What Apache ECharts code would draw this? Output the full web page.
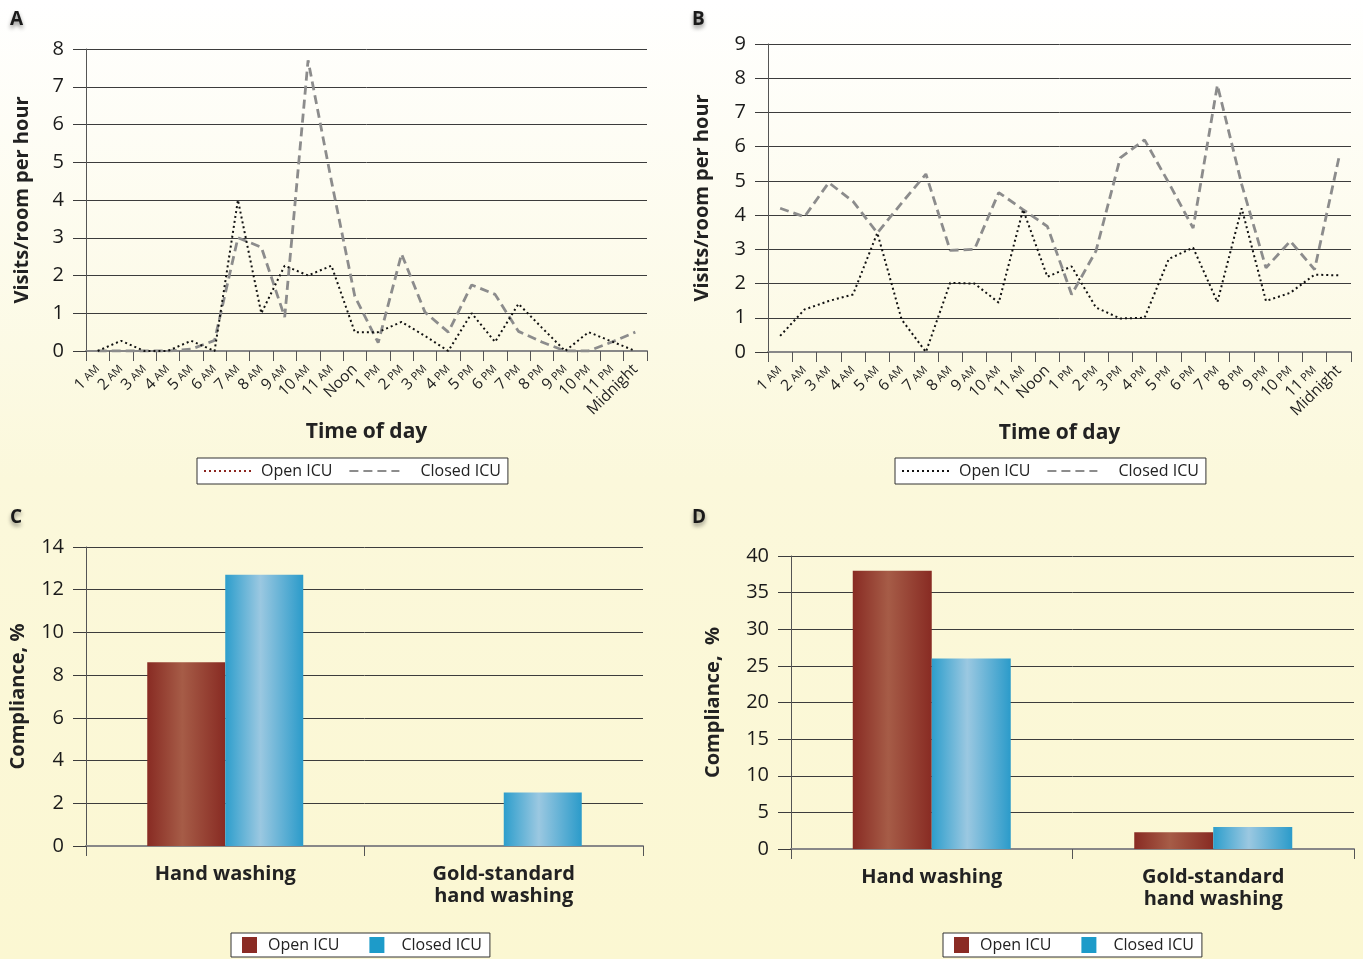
<!DOCTYPE html>
<html>
<head>
<meta charset="utf-8">
<script src="https://cdn.jsdelivr.net/npm/echarts@6/dist/echarts.min.js"></script>
<style>
html,body{margin:0;padding:0;}
#main{width:1363px;height:959px;}
</style>
</head>
<body>
<div id="main"></div>
<script>
// ---- data ----
const hours = ['1 AM','2 AM','3 AM','4 AM','5 AM','6 AM','7 AM','8 AM','9 AM','10 AM','11 AM','Noon',
  '1 PM','2 PM','3 PM','4 PM','5 PM','6 PM','7 PM','8 PM','9 PM','10 PM','11 PM','Midnight'];
const openA   = [0,0.27,0,0,0.27,0,4.0,1.0,2.26,2.0,2.26,0.5,0.5,0.77,0.4,0,1.0,0.24,1.25,0.62,0,0.5,0.25,0];
const closedA = [0,0,0,0,0.05,0.28,3.0,2.75,0.9,7.7,4.5,1.45,0.22,2.57,1.03,0.5,1.75,1.5,0.52,0.24,0,0,0.24,0.5];
const openB   = [0.47,1.24,1.49,1.68,3.48,0.95,0,2.02,2.0,1.44,4.16,2.2,2.5,1.3,0.98,1.0,2.72,3.05,1.46,4.2,1.49,1.73,2.26,2.24];
const closedB = [4.2,3.95,4.95,4.4,3.48,4.35,5.2,2.97,3.0,4.66,4.16,3.67,1.68,2.95,5.67,6.2,4.94,3.62,7.8,4.9,2.46,3.24,2.41,5.67];
const barCats = ['Hand washing','Gold-standard\nhand washing'];
const openC   = [8.6, 0];
const closedC = [12.7, 2.5];
const openD   = [38, 2.3];
const closedD = [26, 3.0];

// ---- styles ----
const FONT = '"Open Sans", "Noto Sans", sans-serif';
const gridLineColor = '#3c3c3c';
const redGrad = {type:'linear',x:0,y:0,x2:1,y2:0,colorStops:[
  {offset:0,color:'#882b23'},{offset:0.45,color:'#a65c47'},{offset:1,color:'#882b23'}]};
const blueGrad = {type:'linear',x:0,y:0,x2:1,y2:0,colorStops:[
  {offset:0,color:'#2d9ecc'},{offset:0.45,color:'#9bc8e1'},{offset:1,color:'#2b9bca'}]};

function hourLabel(v){
  const m = /^(\d+) (AM|PM)$/.exec(v);
  if (m) return '{n|' + m[1] + '} {s|' + m[2] + '}';
  return '{n|' + v + '}';
}

function valueAxis(gi, max, interval, name, gap){
  return {
    type:'value', gridIndex:gi, min:0, max:max, interval:interval,
    name:name, nameLocation:'middle', nameGap:gap, nameRotate:90,
    nameTextStyle:{fontFamily:FONT,fontSize:20,fontWeight:'bold',color:'#222'},
    axisLine:{show:true,lineStyle:{color:'#555',width:1}},
    axisTick:{show:true,length:13,lineStyle:{color:gridLineColor,width:1}},
    axisLabel:{fontFamily:FONT,fontSize:20,color:'#1a1a1a',margin:22},
    splitLine:{show:true,lineStyle:{color:gridLineColor,width:1}}
  };
}
function hourAxis(gi){
  return {
    type:'category', gridIndex:gi, data:hours, boundaryGap:true,
    name:'Time of day', nameLocation:'middle', nameGap:61,
    nameTextStyle:{fontFamily:FONT,fontSize:21,fontWeight:'bold',color:'#222'},
    axisLine:{show:true,lineStyle:{color:'#888',width:2}},
    axisTick:{show:true,length:10,lineStyle:{color:'#555',width:1}},
    axisLabel:{interval:0,rotate:45,margin:16,formatter:hourLabel,
      rich:{n:{fontFamily:FONT,fontSize:15.5,color:'#222'},s:{fontFamily:FONT,fontSize:11,color:'#222'}}}
  };
}
function barAxis(gi){
  return {
    type:'category', gridIndex:gi, data:barCats, boundaryGap:true,
    axisLine:{show:true,lineStyle:{color:'#888',width:2}},
    axisTick:{show:true,length:10,lineStyle:{color:'#555',width:1}},
    axisLabel:{interval:0,margin:17,fontFamily:FONT,fontSize:20,fontWeight:'bold',color:'#222',lineHeight:22}
  };
}
const dotted = (c)=>({color:c,width:2,type:[2,3]});
const dashed = {color:'#8c8c8c',width:2.8,type:[9,5]};
const noSym = {color:'transparent',borderColor:'transparent',borderWidth:0};

function lineLegend(left, top, openColor){
  return {
    left:left, top:top, orient:'horizontal', itemWidth:50, itemHeight:10, itemGap:16,
    padding:[5,7,5,6], borderColor:'#333', borderWidth:1, backgroundColor:'#fff',
    textStyle:{fontFamily:FONT,fontSize:16,color:'#222'},
    formatter:(n)=>n.split(':')[1],
    data:[
      {name:left+':Open ICU', lineStyle:{color:openColor}, itemStyle:noSym, textStyle:{padding:[0,0,0,2]}},
      {name:left+':Closed ICU', itemStyle:noSym, textStyle:{padding:[0,0,0,16]}}
    ]
  };
}
function barLegend(left, top, key){
  return {
    left:left, top:top, orient:'horizontal', itemWidth:15, itemHeight:16, itemGap:30,
    padding:[4,8,4,11], borderColor:'#333', borderWidth:1, backgroundColor:'#fff',
    textStyle:{fontFamily:FONT,fontSize:16,color:'#222'},
    formatter:(n)=>n.split(':')[1],
    data:[
      {name:key+':Open ICU', icon:'rect', itemStyle:{color:'#8a2b24'}, textStyle:{padding:[0,0,0,6]}},
      {name:key+':Closed ICU', icon:'rect', itemStyle:{color:'#1d9bc9'}, textStyle:{padding:[0,0,0,12]}}
    ]
  };
}

const letters = [['A',10,10],['B',692,10],['C',10,508],['D',692,508]].map(([t,x,y])=>({
  type:'text', left:x, top:y,
  style:{text:t,fontFamily:FONT,fontSize:19,fontWeight:'bold',fill:'#1a1a1a',
    textShadowColor:'rgba(0,0,0,0.45)',textShadowBlur:4,textShadowOffsetY:3}
}));

const option = {
  animation:false,
  backgroundColor:{type:'linear',x:0,y:0,x2:0,y2:1,colorStops:[
    {offset:0,color:'#ffffff'},{offset:0.5,color:'#fbf8db'},{offset:1,color:'#fbf7d2'}]},
  graphic:letters,
  grid:[
    {left:86, top:49, width:561, height:302},
    {left:768, top:44, width:583, height:308},
    {left:86, top:547, width:557, height:299},
    {left:791, top:556, width:563, height:293}
  ],
  xAxis:[hourAxis(0), hourAxis(1), barAxis(2), barAxis(3)],
  yAxis:[
    valueAxis(0, 8, 1, 'Visits/room per hour', 54),
    valueAxis(1, 9, 1, 'Visits/room per hour', 56),
    valueAxis(2, 14, 2, 'Compliance, %', 58),
    valueAxis(3, 40, 5, 'Compliance,  %', 68)
  ],
  legend:[
    lineLegend(197, 458, '#8b2520'),
    lineLegend(895, 458, '#111'),
    barLegend(231, 933, 'C'),
    barLegend(943, 933, 'D')
  ],
  series:[
    {type:'line', name:'197:Open ICU', xAxisIndex:0, yAxisIndex:0, data:openA, symbol:'none', lineStyle:dotted('#111'), itemStyle:{color:'#111'}, z:3},
    {type:'line', name:'197:Closed ICU', xAxisIndex:0, yAxisIndex:0, data:closedA, symbol:'none', lineStyle:dashed, itemStyle:{color:'#8c8c8c'}, z:2},
    {type:'line', name:'895:Open ICU', xAxisIndex:1, yAxisIndex:1, data:openB, symbol:'none', lineStyle:dotted('#111'), itemStyle:{color:'#111'}, z:3},
    {type:'line', name:'895:Closed ICU', xAxisIndex:1, yAxisIndex:1, data:closedB, symbol:'none', lineStyle:dashed, itemStyle:{color:'#8c8c8c'}, z:2},
    {type:'bar', name:'C:Open ICU', xAxisIndex:2, yAxisIndex:2, data:openC, barWidth:78, barGap:'0%', itemStyle:{color:redGrad}},
    {type:'bar', name:'C:Closed ICU', xAxisIndex:2, yAxisIndex:2, data:closedC, barWidth:78, barGap:'0%', itemStyle:{color:blueGrad}},
    {type:'bar', name:'D:Open ICU', xAxisIndex:3, yAxisIndex:3, data:openD, barWidth:79, barGap:'0%', itemStyle:{color:redGrad}},
    {type:'bar', name:'D:Closed ICU', xAxisIndex:3, yAxisIndex:3, data:closedD, barWidth:79, barGap:'0%', itemStyle:{color:blueGrad}}
  ]
};
const chart = echarts.init(document.getElementById('main'), null, {renderer:'canvas'});
chart.setOption(option);
</script>
</body>
</html>
